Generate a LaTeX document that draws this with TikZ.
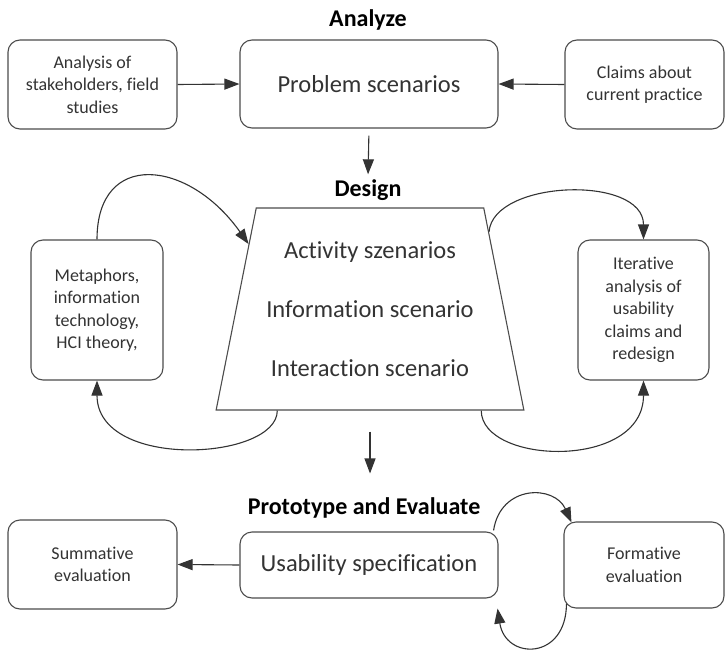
\documentclass[tikz,border=0pt]{standalone}
\usepackage{fontspec}
\setmainfont{Carlito}[Ligatures=NoCommon]
\usepackage{tikz}
\usetikzlibrary{shapes.geometric, arrows.meta, calc}

\begin{document}
\begin{tikzpicture}[x=1pt, y=-1pt,
    every node/.style={inner sep=2pt},
    caixa/.style={draw=black!70, line width=1.1pt, rounded corners=12pt, align=center, text=black!80}
  ]
  \tikzset{
    pequena/.style={caixa, font=\fontsize{18}{22.5}\selectfont},
    grande/.style={caixa, font=\fontsize{24.5}{30}\selectfont},
    titulo/.style={font=\bfseries\fontsize{24}{28}\selectfont},
    seta/.style={draw=black!80, line width=1.1pt, -{Triangle[length=15pt,width=11pt]}}
  }
  \useasboundingbox (0,0) rectangle (725,650);

  % Analyze
  \node[titulo] (tanalyze) at (368,20) {Analyze};
  \node[pequena, minimum width=169pt, minimum height=89pt] (stake) at (92.5,84.5)
    {Analysis of\\stakeholders, field\\studies};
  \node[grande, minimum width=258pt, minimum height=88pt] (prob) at (369,84) {Problem scenarios};
  \node[pequena, minimum width=159pt, minimum height=89pt] (claims) at (644.5,84.5)
    {Claims about\\current practice};
  \draw[seta] (stake.east) -- (prob.west);
  \draw[seta] (claims.west) -- (prob.east);

  % Design
  \node[titulo] (tdesign) at (368,190) {Design};
  \draw[seta, shorten <=7pt, shorten >=3pt] (prob.south) -- (tdesign.north);
  \node[draw=black!70, line width=1.1pt, text=black!80, trapezium, trapezium stretches=true,
    trapezium left angle=75, trapezium right angle=75,
    minimum width=308pt, minimum height=202pt, align=center,
    font=\fontsize{24.5}{59}\selectfont] (trap) at (370,309)
    {Activity szenarios\\Information scenario\\Interaction scenario};
  \node[pequena, minimum width=132pt, minimum height=140pt] (meta) at (97,310)
    {Metaphors,\\information\\technology,\\HCI theory,};
  \node[pequena, minimum width=131pt, minimum height=140pt] (iter) at (643.5,310)
    {Iterative\\analysis of\\usability\\claims and\\redesign};
  \draw[seta] (meta.north) .. controls +(0,-90) and +(-60,-85) ..
    ($(trap.bottom left corner)!0.82!(trap.top left corner)$);
  \draw[seta] ($(trap.bottom left corner)!0.2!(trap.bottom right corner)$) .. controls +(0,50) and +(0,90) ..
    (meta.south);
  \draw[seta] ($(trap.bottom right corner)!0.88!(trap.top right corner)$) .. controls +(4,-52) and +(0,-65) ..
    (iter.north);
  \draw[seta] ($(trap.bottom right corner)!0.14!(trap.bottom left corner)$) .. controls +(0,54) and +(0,90) ..
    (iter.south);

  % Prototype and Evaluate
  \node[titulo] (tproto) at (364,508) {Prototype and Evaluate};
  \draw[seta, shorten <=21pt, shorten >=22pt] (trap.south) -- (trap.south |- tproto.north);
  \node[grande, minimum width=258pt, minimum height=66pt] (usab) at (369,565) {Usability specification};
  \node[pequena, minimum width=169pt, minimum height=89pt] (summ) at (92.5,564.5)
    {Summative\\evaluation};
  \node[pequena, minimum width=160pt, minimum height=86pt] (form) at (644,565)
    {Formative\\evaluation};
  \draw[seta] (usab.west) -- (summ.east);
  \draw[seta] ($(usab.north east)+(-5,-1)$) .. controls +(7,-46) and +(-17,-38) ..
    ($(form.north west)+(8,1)$);
  \draw[seta] ($(form.south west)+(3,-5)$) .. controls +(0,57) and +(8,52) ..
    ($(usab.south east)+(-1,10)$);
\end{tikzpicture}
\end{document}
